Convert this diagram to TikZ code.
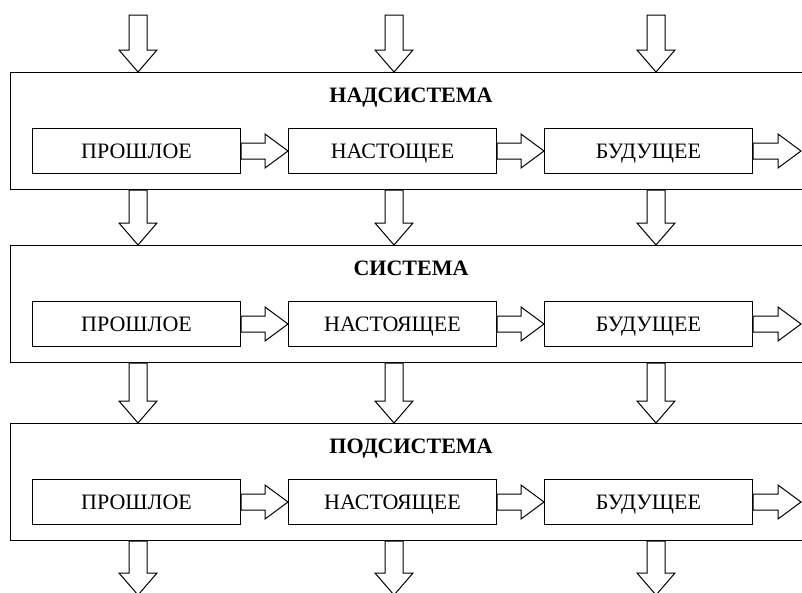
\documentclass[tikz,border=0pt]{standalone}
\usepackage{fontspec}
\setmainfont{Liberation Serif}
\usetikzlibrary{positioning, calc}
\tikzset{
  level/.style={rectangle, draw=black, line width=1pt, minimum width=794pt, minimum height=117pt, inner sep=0pt},
  stage/.style={rectangle, draw=black, line width=1pt, minimum width=208pt, minimum height=45pt, text centered, inner sep=0pt, text height=14.5pt, text depth=0pt, font=\fontsize{22}{26}\selectfont},
  caption/.style={anchor=base, inner sep=0pt, font=\fontsize{22}{26}\selectfont\bfseries},
  fat/.style={draw=black, fill=white, line width=1pt, line join=miter}
}
% hollow arrow to the right: start point, tip
\newcommand{\fatright}[2]{\draw[fat] ($(#1)+(0,-8)$) -- ($(#2)+(-23,-8)$) -- ($(#2)+(-23,-17)$) -- (#2) -- ($(#2)+(-23,17)$) -- ($(#2)+(-23,8)$) -- ($(#1)+(0,8)$) -- cycle;}
% hollow arrow downwards: start point, tip
\newcommand{\fatdown}[2]{\draw[fat] ($(#1)+(-9,0)$) -- ($(#2)+(-9,-22)$) -- ($(#2)+(-19,-22)$) -- (#2) -- ($(#2)+(19,-22)$) -- ($(#2)+(9,-22)$) -- ($(#1)+(9,0)$) -- cycle;}

\begin{document}
\begin{tikzpicture}[x=1pt, y=-1pt]
        \useasboundingbox (0,0) rectangle (802,592);

        \node (super) [level, anchor=north west] at (10,72) {};
        \node (system) [level, below=55pt of super] {};
        \node (sub) [level, below=60pt of system] {};

        \node (t1) [caption] at ($(super.north west)+(401,30)$) {НАДСИСТЕМА};
        \node (t2) [caption] at ($(system.north west)+(401,30)$) {СИСТЕМА};
        \node (t3) [caption] at ($(sub.north west)+(401,30)$) {ПОДСИСТЕМА};

        \node (past1) [stage, anchor=west] at ($(super.north west)+(22,79)$) {ПРОШЛОЕ};
        \node (present1) [stage, right=47pt of past1] {НАСТОЩЕЕ};
        \node (future1) [stage, right=47pt of present1] {БУДУЩЕЕ};

        \node (past2) [stage, anchor=west] at ($(system.north west)+(22,79)$) {ПРОШЛОЕ};
        \node (present2) [stage, right=47pt of past2] {НАСТОЯЩЕЕ};
        \node (future2) [stage, right=47pt of present2] {БУДУЩЕЕ};

        \node (past3) [stage, anchor=west] at ($(sub.north west)+(22,79)$) {ПРОШЛОЕ};
        \node (present3) [stage, right=47pt of past3] {НАСТОЯЩЕЕ};
        \node (future3) [stage, right=47pt of present3] {БУДУЩЕЕ};

        % free ends
        \coordinate (in1) at (138,15);
        \coordinate (in2) at (394,15);
        \coordinate (in3) at (656,15);
        \coordinate (out1) at (138,595);
        \coordinate (out2) at (394,595);
        \coordinate (out3) at (656,595);
        \coordinate (next1) at ([xshift=48pt]future1.east);
        \coordinate (next2) at ([xshift=48pt]future2.east);
        \coordinate (next3) at ([xshift=48pt]future3.east);

        % arrows along time
        \fatright{past1.east}{present1.west}
        \fatright{present1.east}{future1.west}
        \fatright{future1.east}{next1}
        \fatright{past2.east}{present2.west}
        \fatright{present2.east}{future2.west}
        \fatright{future2.east}{next2}
        \fatright{past3.east}{present3.west}
        \fatright{present3.east}{future3.west}
        \fatright{future3.east}{next3}

        % arrows between levels
        \fatdown{in1}{super.north -| in1}
        \fatdown{in2}{super.north -| in2}
        \fatdown{in3}{super.north -| in3}
        \fatdown{super.south -| in1}{system.north -| in1}
        \fatdown{super.south -| in2}{system.north -| in2}
        \fatdown{super.south -| in3}{system.north -| in3}
        \fatdown{system.south -| in1}{sub.north -| in1}
        \fatdown{system.south -| in2}{sub.north -| in2}
        \fatdown{system.south -| in3}{sub.north -| in3}
        \fatdown{sub.south -| in1}{out1}
        \fatdown{sub.south -| in2}{out2}
        \fatdown{sub.south -| in3}{out3}

    \end{tikzpicture}
\end{document}
